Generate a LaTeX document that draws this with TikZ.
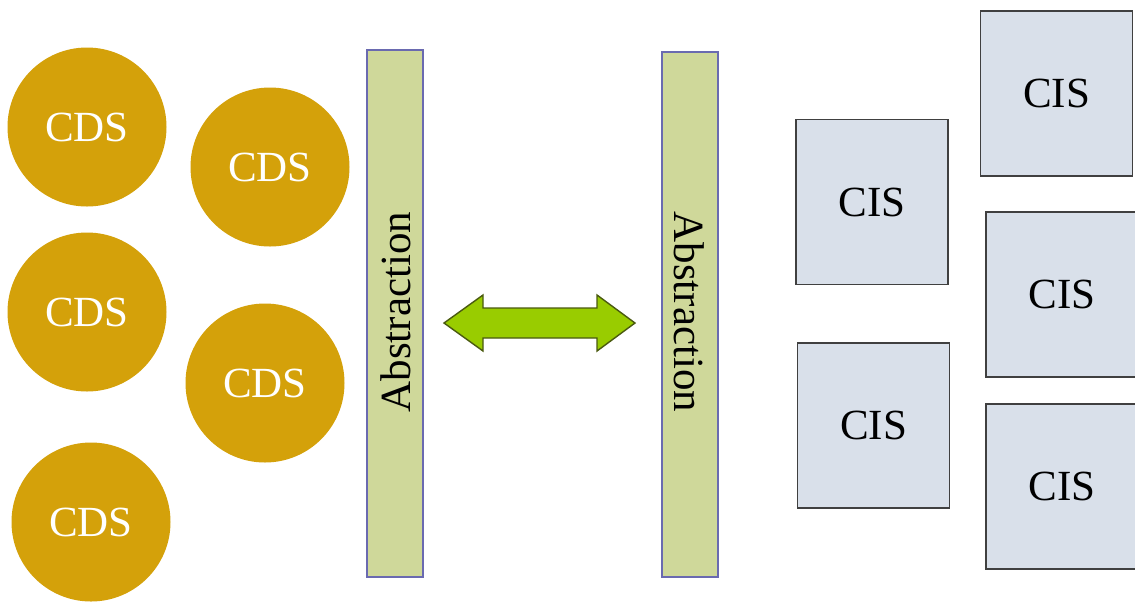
\documentclass[tikz,border=0pt]{standalone}
\usepackage{fontspec}
\setmainfont{Liberation Serif}
\definecolor{cdsgold}{RGB}{212,161,10}
\definecolor{barfill}{RGB}{207,216,154}
\definecolor{barline}{RGB}{106,106,176}
\definecolor{arrowfill}{RGB}{153,204,0}
\definecolor{arrowline}{RGB}{74,90,16}
\definecolor{cisfill}{RGB}{217,224,234}
\definecolor{cisline}{RGB}{64,64,64}
\begin{document}
\begin{tikzpicture}[x=0.5pt,y=-0.5pt,
  label font/.style={font=\fontsize{21.5}{24}\selectfont},
  cds/.style={circle,fill=cdsgold,draw=none,minimum size=159pt*0.5,inner sep=0pt,
    text=white,label font},
  cis/.style={rectangle,fill=cisfill,draw=cisline,line width=0.75pt,inner sep=0pt,
    minimum width=152*0.5pt,minimum height=165*0.5pt,text=black,label font},
  bar/.style={rectangle,fill=barfill,draw=barline,line width=0.8pt,inner sep=0pt,
    minimum width=56*0.5pt},
  bartext/.style={label font,inner sep=0pt},
  link/.style={fill=arrowfill,draw=arrowline,line width=0.7pt,line join=miter}]
\useasboundingbox (0,0) rectangle (1135,601);
\fill[white] (0,0) rectangle (1135,601);

% CDS circles
\node[cds] (cds1) at (87,127) {CDS};
\node[cds] (cds2) at (270,167) {CDS};
\node[cds] (cds3) at (87,312) {CDS};
\node[cds] (cds4) at (265,383) {CDS};
\node[cds] (cds5) at (91,522) {CDS};

% abstraction bars
\node[bar,minimum height=527*0.5pt] (absL) at (395,313.5) {};
\node[bar,minimum height=525*0.5pt] (absR) at (690,314.5) {};
\node[bartext,rotate=90] (absLt) at (396,312) {Abstraction};
\node[bartext,rotate=-90] (absRt) at (689,312) {Abstraction};

% two-way arrow between the abstraction layers
\coordinate (tipL) at (444,323);
\coordinate (tipR) at (635,323);
\draw[link] (tipL) -- (483,295) -- (483,308) -- (597,308) -- (597,295) -- (tipR)
  -- (597,351) -- (597,338) -- (483,338) -- (483,351) -- cycle;

% CIS boxes
\node[cis] (cis1) at (872,202) {CIS};
\node[cis] (cis2) at (1056.5,93.5) {CIS};
\node[cis] (cis3) at (1062,294.5) {CIS};
\node[cis] (cis4) at (873.5,425.5) {CIS};
\node[cis] (cis5) at (1062,486.5) {CIS};
\end{tikzpicture}
\end{document}
